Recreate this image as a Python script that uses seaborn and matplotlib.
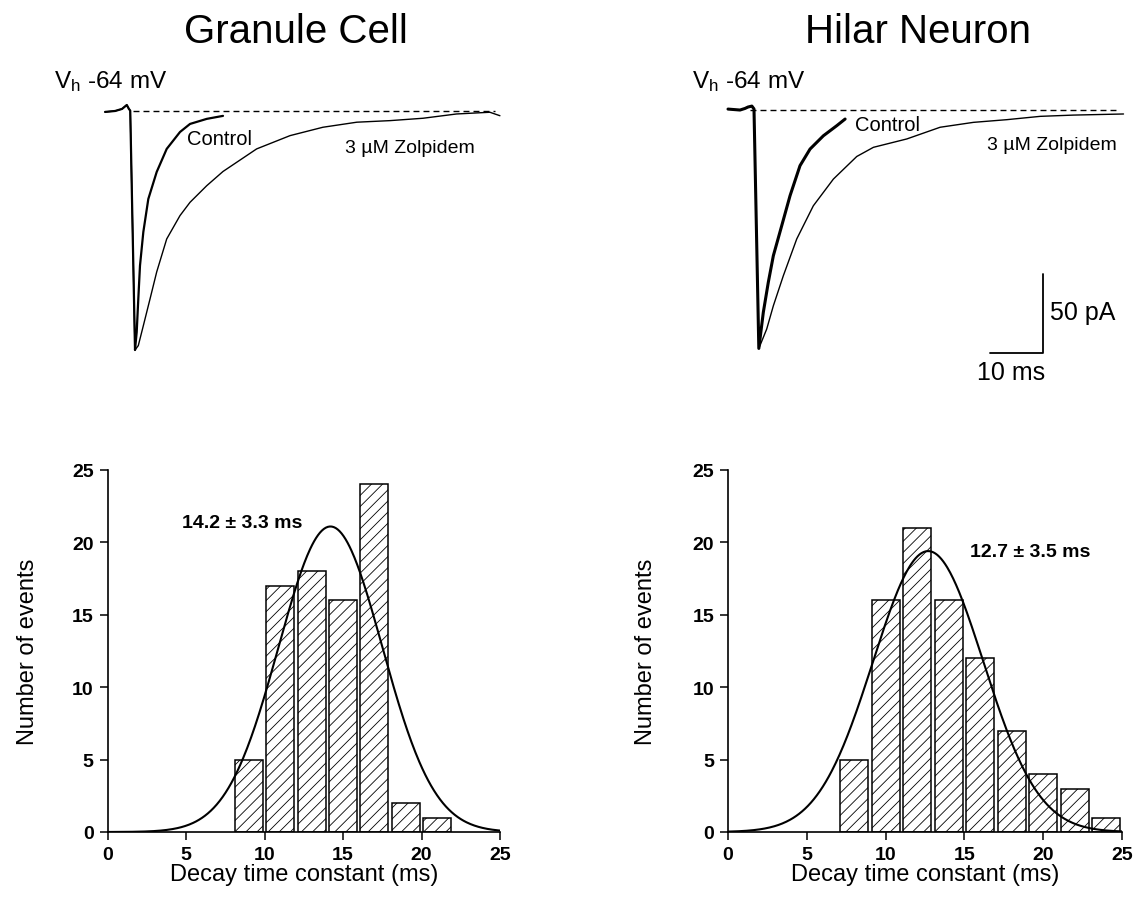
import numpy as np
import pandas as pd
import matplotlib
matplotlib.use("Agg")
import matplotlib.pyplot as plt
import seaborn as sns

# ---------------- data ----------------
# Granule cell traces (time in ms, current in pA)
gc_pre_t = [0.2, 2.1, 3.4, 4.3, 4.7, 4.95]
gc_pre_i = [-0.3, 0.3, 1.6, 4.1, 1.6, 0.5]
gc_peak_t, gc_peak_i = 5.85, -151.0
gc_ctrl_t = [6.17, 6.47, 6.79, 7.42, 8.36, 9.94, 11.83, 14.34, 16.23, 19.38, 22.45]
gc_ctrl_i = [-139.6, -118.7, -97.6, -76.3, -55.4, -38.3, -23.7, -13.0, -7.9, -4.7, -2.8]
gc_zol_t = [6.47, 7.42, 8.68, 9.94, 11.83, 14.34, 16.23, 19.38, 22.45, 28.8, 35.1,
            41.3, 47.7, 54.0, 60.2, 66.5, 72.8, 74.7]
gc_zol_i = [-148.2, -135.6, -118.7, -101.6, -80.7, -65.9, -57.5, -47.0, -38.0, -23.7,
            -15.3, -10.0, -6.8, -5.8, -4.3, -1.6, -0.5, -2.7]

# Hilar neuron traces
hn_pre_t = [0.0, 2.26, 3.2, 3.77, 4.5, 4.9]
hn_pre_i = [0.4, -0.2, 0.8, 1.7, 2.3, 0.5]
hn_peak_t, hn_peak_i = 5.81, -151.1
hn_ctrl_t = [6.66, 7.60, 8.55, 10.13, 11.70, 13.58, 15.47, 17.98, 20.51, 22.08]
hn_ctrl_i = [-128.2, -109.2, -92.4, -73.4, -54.4, -35.4, -24.9, -16.5, -10.1, -5.9]
hn_zol_t = [7.30, 8.55, 10.43, 12.96, 16.09, 19.87, 24.28, 27.42, 33.72, 40.0, 46.28,
            52.58, 58.87, 65.15, 74.58]
hn_zol_i = [-138.8, -124.1, -105.1, -81.8, -60.8, -43.9, -29.6, -23.8, -18.5, -11.1,
            -8.0, -6.3, -4.2, -3.4, -2.7]

# scale bar values
scale_ms = 10
scale_pa = 50

# Histograms: left bin edges and counts (bin width 2 ms)
gc_bin_left = [8, 10, 12, 14, 16, 18, 20]
gc_counts = [5, 17, 18, 16, 24, 2, 1]
hn_bin_left = [7, 9, 11, 13, 15, 17, 19, 21, 23]
hn_counts = [5, 16, 21, 16, 12, 7, 4, 3, 1]
bin_width = 2

# Gaussian fits: mean, sd, peak height
gc_fit = (14.2, 3.3, 21.1)
hn_fit = (12.7, 3.5, 19.4)

titles = ["Granule Cell", "Hilar Neuron"]
fit_labels = ["14.2 \u00b1 3.3 ms", "12.7 \u00b1 3.5 ms"]
x_ticks = [0, 5, 10, 15, 20, 25]
y_ticks = [0, 5, 10, 15, 20, 25]

# ---------------- style ----------------
sns.set_theme(style="white")
plt.rcParams["font.family"] = ["Liberation Sans", "DejaVu Sans"]
plt.rcParams["mathtext.fontset"] = "custom"
plt.rcParams["mathtext.rm"] = "Liberation Sans"
plt.rcParams["mathtext.it"] = "Liberation Sans"
plt.rcParams["text.color"] = "black"
plt.rcParams["axes.labelcolor"] = "black"
plt.rcParams["xtick.color"] = "black"
plt.rcParams["ytick.color"] = "black"
plt.rcParams["hatch.linewidth"] = 0.6

W, H = 1139, 904
fig = plt.figure(figsize=(W / 100, H / 100), dpi=100)
fig.patch.set_facecolor("white")


def rect(x0, y0, x1, y1):
    return [x0 / W, 1 - y1 / H, (x1 - x0) / W, (y1 - y0) / H]


def ftext(x, y, s, **kw):
    fig.text(x / W, 1 - y / H, s, color="black", **kw)


# ---------------- top traces ----------------
def draw_traces(ax, pre_t, pre_i, pk_t, pk_i, c_t, c_i, z_t, z_i, ctrl_lw, dash_range):
    ctrl = pd.DataFrame({"t": pre_t + [pk_t] + c_t, "i": pre_i + [pk_i] + c_i})
    zol = pd.DataFrame({"t": pre_t + [pk_t] + z_t, "i": pre_i + [pk_i] + z_i})
    sns.lineplot(data=zol, x="t", y="i", ax=ax, color="black", linewidth=1.0,
                 sort=False, estimator=None)
    sns.lineplot(data=ctrl, x="t", y="i", ax=ax, color="black", linewidth=ctrl_lw,
                 sort=False, estimator=None)
    ax.plot(dash_range, [0, 0], color="black", linewidth=1.0, dashes=(4.3, 2.9))
    ax.set_axis_off()


ax_t1 = fig.add_axes(rect(100, 60, 510, 400))
draw_traces(ax_t1, gc_pre_t, gc_pre_i, gc_peak_t, gc_peak_i, gc_ctrl_t, gc_ctrl_i,
            gc_zol_t, gc_zol_i, 1.6, [5.5, 73.8])
ax_t1.set_xlim(-0.755, 76.6)
ax_t1.set_ylim(-182.0, 33.2)
ax_t1.text(21.7, -17.4, "Control", fontsize=14.5, ha="center", va="center")
ax_t1.text(45.5, -22.5, "3 \u00b5M Zolpidem", fontsize=14, ha="left", va="center")

ax_t2 = fig.add_axes(rect(720, 60, 1139, 400))
draw_traces(ax_t2, hn_pre_t, hn_pre_i, hn_peak_t, hn_peak_i, hn_ctrl_t, hn_ctrl_i,
            hn_zol_t, hn_zol_i, 2.2, [4.2, 74.0])
ax_t2.set_xlim(-1.51, 77.5)
ax_t2.set_ylim(-183.1, 32.1)
ax_t2.text(24.0, -9.1, "Control", fontsize=14.5, ha="left", va="center")
ax_t2.text(48.9, -21.7, "3 \u00b5M Zolpidem", fontsize=14, ha="left", va="center")

# scale bar
corner_t, corner_i = 59.4, -154.0
ax_t2.plot([corner_t - scale_ms, corner_t, corner_t],
           [corner_i, corner_i, corner_i + scale_pa], color="black", linewidth=1.3)
ftext(1050, 313, "50 pA", fontsize=18, ha="left", va="center")
ftext(977, 373, "10 ms", fontsize=18, ha="left", va="center")

# Vh labels and titles
for x0 in (54, 692):
    ftext(x0, 82, r"V$_{\mathrm{h}}$ -64 mV", fontsize=17.5, ha="left", va="center")
ftext(296, 32, titles[0], fontsize=29, ha="center", va="center")
ftext(918, 32, titles[1], fontsize=29, ha="center", va="center")


# ---------------- histograms ----------------
def draw_hist(ax, bin_left, counts, fit, label, label_xy, ylabel_x):
    edges = list(bin_left) + [bin_left[-1] + bin_width]
    centers = [b + bin_width / 2 for b in bin_left]
    df = pd.DataFrame({"tau": centers, "n": counts})
    sns.histplot(data=df, x="tau", weights="n", bins=edges, shrink=0.89, ax=ax,
                 color="white", edgecolor="black", linewidth=1.1, alpha=1.0)
    for p in ax.patches:
        p.set_hatch("///")
        p.set_facecolor("white")
    mu, sd, pk = fit
    xs = np.linspace(0, 25, 400)
    ys = pk * np.exp(-0.5 * ((xs - mu) / sd) ** 2)
    sns.lineplot(x=xs, y=ys, ax=ax, color="black", linewidth=1.5)
    ax.set_xlim(0, 25)
    ax.set_ylim(0, 25)
    ax.set_xticks(x_ticks)
    ax.set_yticks(y_ticks)
    for s in ("top", "right"):
        ax.spines[s].set_visible(False)
    for s in ("left", "bottom"):
        ax.spines[s].set_color("black")
        ax.spines[s].set_linewidth(1.2)
    ax.tick_params(axis="both", direction="out", length=6, width=1.1, color="black",
                   labelcolor="black", labelsize=14, pad=4, left=True, bottom=True)
    for lab in ax.get_xticklabels() + ax.get_yticklabels():
        lab.set_fontweight("bold")
    ax.set_xlabel("Decay time constant (ms)", fontsize=17, color="black")
    ax.set_ylabel("Number of events", fontsize=17, color="black")
    ax.xaxis.label.set_va("center")
    ax.xaxis.set_label_coords(0.5, -0.116)
    ax.yaxis.label.set(va="center", ha="center", rotation_mode="default")
    ax.yaxis.set_label_coords(ylabel_x, 0.5)
    ax.text(label_xy[0], label_xy[1], label, fontsize=14, fontweight="bold",
            ha="left", va="center", color="black")
    ax.set_facecolor("white")


ax_h1 = fig.add_axes(rect(107.5, 471, 500, 833))
draw_hist(ax_h1, gc_bin_left, gc_counts, gc_fit, fit_labels[0], (4.75, 21.4), -0.203)
ax_h2 = fig.add_axes(rect(728, 471, 1122, 833))
draw_hist(ax_h2, hn_bin_left, hn_counts, hn_fit, fit_labels[1], (15.36, 19.4), -0.208)

fig.savefig("out.png", dpi=100, facecolor="white")
